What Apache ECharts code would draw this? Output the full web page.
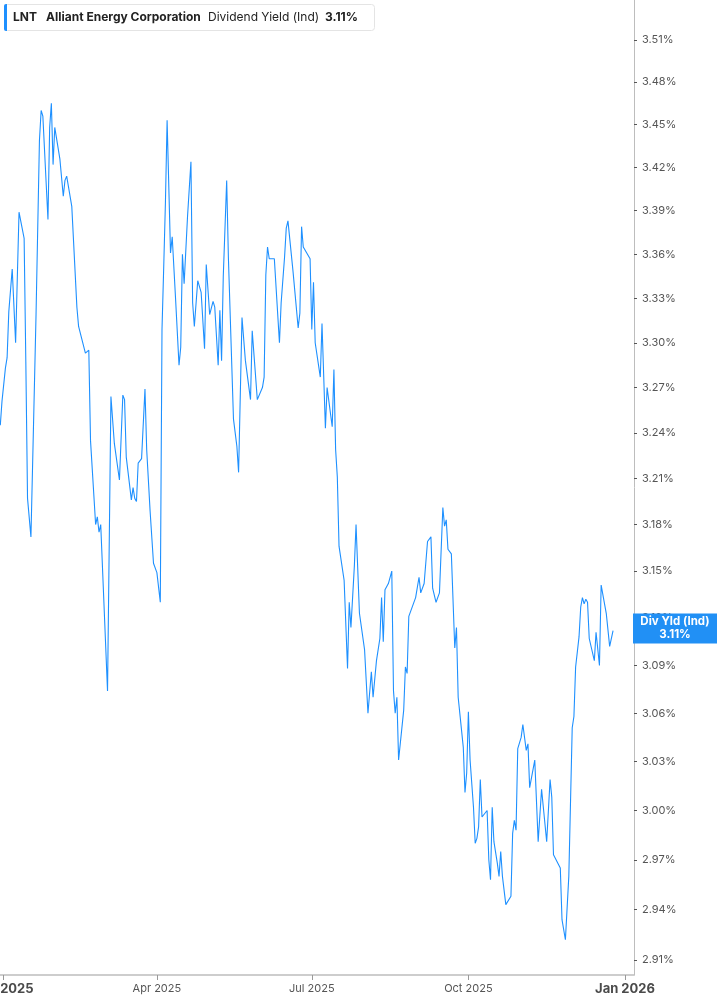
<!DOCTYPE html>
<html>
<head>
<meta charset="utf-8">
<script src="https://cdn.jsdelivr.net/npm/echarts@6.0.0/dist/echarts.min.js"></script>
<style>
html,body{margin:0;padding:0;background:#fff;}
#chart{width:717px;height:1005px;}
</style>
</head>
<body>
<div id="chart"></div>
<script>
const dates = [
'2024-12-30','2024-12-31','2025-01-02','2025-01-03','2025-01-04','2025-01-06','2025-01-07','2025-01-08','2025-01-10','2025-01-13',
'2025-01-14','2025-01-15','2025-01-17','2025-01-18','2025-01-20','2025-01-22','2025-01-23','2025-01-24','2025-01-27','2025-01-28',
'2025-01-29','2025-01-30','2025-01-31','2025-02-03','2025-02-04','2025-02-05','2025-02-06','2025-02-07','2025-02-10','2025-02-13',
'2025-02-14','2025-02-18','2025-02-19','2025-02-20','2025-02-21','2025-02-24','2025-02-25','2025-02-26','2025-02-27','2025-03-03',
'2025-03-05','2025-03-07','2025-03-10','2025-03-12','2025-03-13','2025-03-14','2025-03-17','2025-03-18','2025-03-19','2025-03-20',
'2025-03-21','2025-03-23','2025-03-25','2025-03-26','2025-03-28','2025-03-30','2025-04-01','2025-04-03','2025-04-04','2025-04-05',
'2025-04-06','2025-04-07','2025-04-09','2025-04-10','2025-04-12','2025-04-14','2025-04-15','2025-04-16','2025-04-17','2025-04-19',
'2025-04-21','2025-04-22','2025-04-23','2025-04-25','2025-04-27','2025-04-29','2025-04-30','2025-05-02','2025-05-04','2025-05-05',
'2025-05-07','2025-05-08','2025-05-09','2025-05-10','2025-05-12','2025-05-13','2025-05-14','2025-05-16','2025-05-18','2025-05-19',
'2025-05-21','2025-05-23','2025-05-26','2025-05-27','2025-05-30','2025-06-02','2025-06-03','2025-06-04','2025-06-05','2025-06-06',
'2025-06-09','2025-06-12','2025-06-13','2025-06-15','2025-06-16','2025-06-17','2025-06-20','2025-06-23','2025-06-24','2025-06-25',
'2025-06-26','2025-06-30','2025-07-01','2025-07-02','2025-07-03','2025-07-06','2025-07-07','2025-07-09','2025-07-10','2025-07-13',
'2025-07-14','2025-07-15','2025-07-16','2025-07-17','2025-07-20','2025-07-22','2025-07-23','2025-07-24','2025-07-26','2025-07-27',
'2025-07-29','2025-07-30','2025-08-01','2025-08-03','2025-08-05','2025-08-06','2025-08-08','2025-08-10','2025-08-11','2025-08-12',
'2025-08-13','2025-08-15','2025-08-17','2025-08-18','2025-08-19','2025-08-20','2025-08-21','2025-08-24','2025-08-25','2025-08-26',
'2025-08-27','2025-08-28','2025-08-31','2025-09-02','2025-09-03','2025-09-05','2025-09-07','2025-09-09','2025-09-10','2025-09-12',
'2025-09-14','2025-09-16','2025-09-17','2025-09-18','2025-09-19','2025-09-21','2025-09-23','2025-09-24','2025-09-25','2025-09-28',
'2025-09-29','2025-09-30','2025-10-01','2025-10-02','2025-10-04','2025-10-05','2025-10-06','2025-10-07','2025-10-08','2025-10-09',
'2025-10-12','2025-10-13','2025-10-14','2025-10-15','2025-10-16','2025-10-18','2025-10-19','2025-10-20','2025-10-21','2025-10-22',
'2025-10-23','2025-10-26','2025-10-27','2025-10-28','2025-10-29','2025-10-30','2025-11-01','2025-11-02','2025-11-04','2025-11-05',
'2025-11-06','2025-11-09','2025-11-11','2025-11-13','2025-11-14','2025-11-16','2025-11-17','2025-11-18','2025-11-19','2025-11-20',
'2025-11-24','2025-11-25','2025-11-27','2025-11-29','2025-11-30','2025-12-01','2025-12-02','2025-12-03','2025-12-05','2025-12-06',
'2025-12-07','2025-12-08','2025-12-09','2025-12-10','2025-12-11','2025-12-14','2025-12-15','2025-12-17','2025-12-18','2025-12-21',
'2025-12-23','2025-12-25'
];
const yields = [
3.245,3.261,3.283,3.290,3.321,3.350,3.349,3.300,3.389,3.371,
3.287,3.197,3.172,3.220,3.319,3.439,3.460,3.456,3.384,3.448,
3.465,3.422,3.448,3.426,3.427,3.400,3.411,3.414,3.393,3.324,
3.311,3.293,3.294,3.295,3.235,3.180,3.185,3.175,3.180,3.074,
3.264,3.233,3.209,3.265,3.262,3.224,3.196,3.204,3.197,3.195,
3.220,3.223,3.269,3.229,3.189,3.155,3.149,3.130,3.309,3.351,
3.395,3.453,3.361,3.372,3.329,3.285,3.297,3.360,3.340,3.386,
3.424,3.327,3.311,3.342,3.334,3.296,3.353,3.319,3.328,3.324,
3.285,3.322,3.288,3.345,3.411,3.358,3.357,3.249,3.231,3.214,
3.317,3.288,3.262,3.308,3.262,3.270,3.277,3.346,3.365,3.357,
3.357,3.300,3.327,3.358,3.378,3.383,3.348,3.310,3.320,3.379,
3.365,3.357,3.309,3.341,3.300,3.277,3.313,3.243,3.270,3.244,
3.282,3.229,3.211,3.166,3.144,3.088,3.130,3.114,3.153,3.180,
3.123,3.122,3.100,3.060,3.086,3.070,3.093,3.107,3.133,3.105,
3.138,3.142,3.150,3.074,3.060,3.070,3.031,3.062,3.089,3.085,
3.121,3.120,3.133,3.146,3.136,3.142,3.169,3.172,3.139,3.130,
3.136,3.191,3.179,3.183,3.164,3.161,3.101,3.114,3.070,3.039,
3.011,3.023,3.061,3.031,3.002,2.980,2.983,2.990,3.019,2.996,
3.000,2.970,2.958,3.002,2.981,2.968,2.960,2.975,2.960,2.959,
2.943,2.948,2.986,2.994,2.988,3.038,3.045,3.053,3.037,3.041,
3.014,3.031,2.981,3.013,3.014,2.981,2.982,3.019,3.008,2.973,
2.965,2.934,2.922,2.960,3.005,3.051,3.058,3.089,3.108,3.127,
3.133,3.129,3.132,3.130,3.107,3.093,3.111,3.090,3.141,3.123,
3.102,3.112
];
const yTicks = [2.91,2.94,2.97,3.00,3.03,3.06,3.09,3.12,3.15,3.18,3.21,3.24,3.27,3.30,3.33,3.36,3.39,3.42,3.45,3.48,3.51];
const xTicks = ['2025-01-01','2025-04-01','2025-07-01','2025-10-01','2026-01-01'];
const monthNames = ['Jan','Feb','Mar','Apr','May','Jun','Jul','Aug','Sep','Oct','Nov','Dec'];

const DAY = 86400000;
function ts(s){ const p = s.split('-').map(Number); return Date.UTC(p[0], p[1]-1, p[2]); }
const seriesData = dates.map((d,i) => [ts(d), Math.log(yields[i])]);
const lastVal = yields[yields.length-1];

const FONT = 'Inter, Roboto, "Noto Sans", sans-serif';
const BLUE = '#1E90FF';
const base = ts('2025-01-01');
const lnTop = Math.log(3.51) + 40/4907.4;
const lnBot = Math.log(3.51) - 935/4907.4;

const chart = echarts.init(document.getElementById('chart'), null, {renderer:'canvas'});
chart.setOption({
  animation: false,
  backgroundColor: '#fff',
  grid: {left: 0, right: 83, top: 0, bottom: 30, containLabel: false, outerBoundsMode: 'none'},
  xAxis: {
    type: 'value',
    min: base - 2.174*DAY,
    max: base + 370.3*DAY,
    axisLine: {show: true, lineStyle: {color: '#bdbdbd', width: 1.5}},
    axisTick: {show: true, length: 5, lineStyle: {color: '#999'}, customValues: xTicks.map(ts)},
    splitLine: {show: false},
    axisLabel: {
      customValues: xTicks.map(ts),
      margin: 8,
      fontFamily: FONT,
      formatter: function(v){
        const d = new Date(v);
        const m = d.getUTCMonth();
        const s = monthNames[m] + ' ' + d.getUTCFullYear();
        return m === 0 ? '{b|' + s + '}' : '{n|' + s + '}';
      },
      rich: {
        b: {fontFamily: FONT, fontWeight: 'bold', fontSize: 13, color: '#4a4a4a'},
        n: {fontFamily: FONT, fontSize: 11, color: '#555'}
      }
    }
  },
  yAxis: {
    type: 'value',
    position: 'right',
    min: lnBot,
    max: lnTop,
    scale: true,
    axisLine: {show: true, lineStyle: {color: '#bdbdbd', width: 1}},
    axisTick: {show: true, length: 3, lineStyle: {color: '#555'}, customValues: yTicks.map(Math.log)},
    splitLine: {show: false},
    axisLabel: {
      customValues: yTicks.map(Math.log),
      margin: 8,
      fontFamily: FONT,
      fontSize: 11,
      color: '#555',
      formatter: function(v){ return Math.exp(v).toFixed(2) + '%'; }
    }
  },
  series: [{
    type: 'line',
    data: seriesData,
    showSymbol: false,
    symbol: 'none',
    lineStyle: {color: BLUE, width: 1.1},
    z: 3
  }]
});

const py = chart.convertToPixel({yAxisIndex: 0}, Math.log(lastVal));
chart.setOption({
  graphic: [
    {type:'rect', z: 100, shape:{x:4.5, y:4.5, width:370, height:26, r:3}, style:{fill:'#fff', stroke:'#e4e4e4', lineWidth:1}},
    {type:'rect', z: 101, shape:{x:4, y:4, width:3, height:27, r:[2,0,0,2]}, style:{fill:BLUE}},
    {type:'text', z: 102, x:13, y:17.5, style:{text:'LNT', font:'bold 12px ' + FONT, fill:'#222', textVerticalAlign:'middle'}},
    {type:'text', z: 102, x:46, y:17.5, style:{text:'Alliant Energy Corporation', font:'bold 12px ' + FONT, fill:'#222', textVerticalAlign:'middle'}},
    {type:'text', z: 102, x:208, y:17.5, style:{text:'Dividend Yield (Ind)', font:'12px ' + FONT, fill:'#222', textVerticalAlign:'middle'}},
    {type:'text', z: 102, x:325, y:17.5, style:{text:lastVal.toFixed(2) + '%', font:'bold 12px ' + FONT, fill:'#222', textVerticalAlign:'middle'}},
    {type:'rect', z: 100, shape:{x:633, y:py-17, width:84, height:30}, style:{fill:'#2190F5'}},
    {type:'text', z: 102, x:675, y:py-9, style:{text:'Div Yld (Ind)', font:'bold 11.5px ' + FONT, fill:'#fff', textAlign:'center', textVerticalAlign:'middle'}},
    {type:'text', z: 102, x:675, y:py+4, style:{text:lastVal.toFixed(2) + '%', font:'bold 11.5px ' + FONT, fill:'#fff', textAlign:'center', textVerticalAlign:'middle'}}
  ]
});
</script>
</body>
</html>
